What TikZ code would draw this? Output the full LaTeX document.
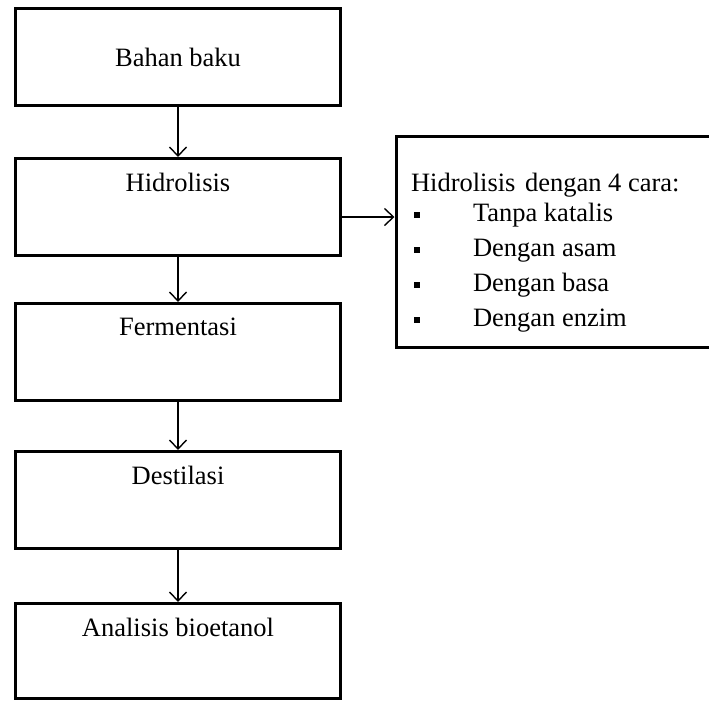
\documentclass[tikz,border=0pt]{standalone}
\usepackage{fontspec}
\setmainfont{Liberation Serif}
\usetikzlibrary{arrows.meta, positioning}
\tikzset{
  stepbox/.style={
    draw=black,
    line width=3pt,
    minimum width=325pt,
    minimum height=97pt,
    align=center,
    font=\fontsize{26.5}{32}\selectfont
  },
  boxtitle/.style={
    anchor=center,
    yshift=-25pt,
    font=\fontsize{26.5}{32}\selectfont
  },
  listbox/.style={
    draw=black,
    line width=3pt,
    minimum width=330pt,
    minimum height=211pt,
    anchor=north west
  },
  listtext/.style={
    align=left,
    inner sep=0pt,
    outer sep=0pt,
    font=\fontsize{26.5}{35}\selectfont
  },
  arrowf/.style={
    -{Straight Barb[length=9pt, width=17pt]},
    line width=1.4pt,
    color=black
  }
}
\newcommand{\listbullet}{\hspace*{3pt}\makebox[59pt][l]{\rule[3pt]{6pt}{6pt}}}

\begin{document}
\begin{tikzpicture}[x=1pt, y=-1pt]
  \useasboundingbox (0,0) rectangle (709,702);

  % ==================== ALUR UTAMA ====================
  \node (bahan) [stepbox] at (178,57) {Bahan baku};

  \node (hidro) [stepbox, below=50pt of bahan, label={[boxtitle]north:Hidrolisis}] {};

  \node (ferm) [stepbox, below=45pt of hidro, label={[boxtitle]north:Fermentasi}] {};

  \node (destil) [stepbox, below=48pt of ferm, label={[boxtitle]north:Destilasi}] {};

  \node (analisis) [stepbox, minimum height=95pt, below=52pt of destil, label={[boxtitle]north:Analisis bioetanol}] {};

  % ==================== CARA HIDROLISIS ====================
  \node (cara) [listbox] at (394.5,134.5) {};

  \node (caratext) [listtext, below right=38.5pt and 16.5pt of cara.north west] {Hidrolisis\hspace{9.5pt}dengan 4 cara:\\[-5pt]
    \listbullet Tanpa katalis\\
    \listbullet Dengan asam\\
    \listbullet Dengan basa\\
    \listbullet Dengan enzim};

  % Connectors
  \draw [arrowf] (bahan) -- (hidro);
  \draw [arrowf] (hidro) -- (ferm);
  \draw [arrowf] (ferm) -- (destil);
  \draw [arrowf] (destil) -- (analisis);

  \draw [arrowf] ([yshift=-10pt]hidro.east) -- ([yshift=-10pt]hidro.east -| cara.west);

\end{tikzpicture}
\end{document}
